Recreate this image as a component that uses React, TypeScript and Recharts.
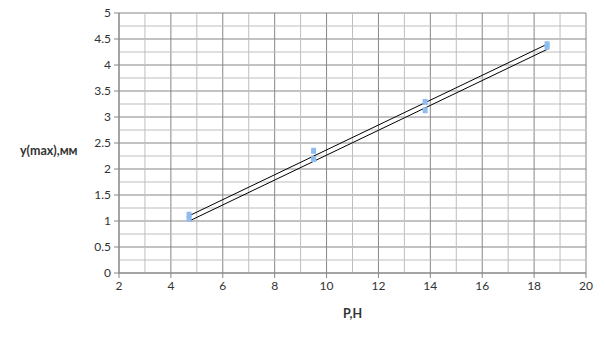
import {
  ComposedChart,
  CartesianGrid,
  Line,
  ReferenceLine,
  Scatter,
  XAxis,
  YAxis,
} from "recharts";

const xTicks = [2, 4, 6, 8, 10, 12, 14, 16, 18, 20];
const yTicks = [0, 0.5, 1, 1.5, 2, 2.5, 3, 3.5, 4, 4.5, 5];
const xMinor = [3, 5, 7, 9, 11, 13, 15, 17, 19];
const yMinor = [0.25, 0.75, 1.25, 1.75, 2.25, 2.75, 3.25, 3.75, 4.25, 4.75];

const loads = [4.7, 9.5, 13.8, 18.5];
const upperValues = [1.12, 2.35, 3.29, 4.4];
const lowerValues = [1.04, 2.19, 3.13, 4.35];

const upperFit = [
  { x: 4.7, y: 1.1 },
  { x: 18.5, y: 4.4 },
];
const lowerFit = [
  { x: 4.75, y: 1.01 },
  { x: 18.5, y: 4.3 },
];

const upperPoints = loads.map((x, i) => ({ x, y: upperValues[i] }));
const lowerPoints = loads.map((x, i) => ({ x, y: lowerValues[i] }));

const FONT = "Lato, 'Open Sans', sans-serif";
const MAJOR = "#868686";
const MINOR = "#bdbdbd";
const TEXT = "#333333";

function Marker(props: any) {
  const { cx, cy } = props;
  if (cx == null || cy == null) return null;
  return <rect x={cx - 2.5} y={cy - 3} width={5} height={6} fill="#8fbdf0" />;
}

export default function App() {
  return (
    <div style={{ position: "fixed", left: 0, top: 0, background: "#fff" }}>
      <ComposedChart
        width={605}
        height={340}
        margin={{ top: 13, right: 19, left: 0, bottom: 0 }}
        style={{ fontFamily: FONT }}
      >
        {xMinor.map((v) => (
          <ReferenceLine key={"x" + v} x={v} stroke={MINOR} ifOverflow="hidden" />
        ))}
        {yMinor.map((v) => (
          <ReferenceLine key={"y" + v} y={v} stroke={MINOR} ifOverflow="hidden" />
        ))}
        <CartesianGrid stroke={MAJOR} />
        <XAxis
          type="number"
          dataKey="x"
          domain={[2, 20]}
          ticks={xTicks}
          interval={0}
          height={67}
          stroke={MAJOR}
          tickSize={5}
          tickMargin={3}
          tick={{ fill: TEXT, fontSize: 12, fontFamily: FONT }}
          label={{
            value: "P,H",
            position: "insideBottom",
            offset: 22,
            fill: TEXT,
            fontSize: 12.5,
            fontWeight: "bold",
            fontFamily: FONT,
          }}
        />
        <YAxis
          type="number"
          dataKey="y"
          domain={[0, 5]}
          ticks={yTicks}
          interval={0}
          width={119}
          stroke={MAJOR}
          tickSize={5}
          tickMargin={3}
          tick={{ fill: TEXT, fontSize: 12, fontFamily: FONT }}
          label={{
            value: "y(max),мм",
            position: "insideLeft",
            offset: 20,
            dy: 8,
            fill: TEXT,
            fontSize: 12.5,
            fontWeight: "bold",
            fontFamily: FONT,
          }}
        />
        <Scatter data={upperPoints} shape={<Marker />} isAnimationActive={false} />
        <Scatter data={lowerPoints} shape={<Marker />} isAnimationActive={false} />
        <Line
          data={upperFit}
          dataKey="y"
          stroke="#000"
          strokeWidth={1}
          dot={false}
          activeDot={false}
          isAnimationActive={false}
        />
        <Line
          data={lowerFit}
          dataKey="y"
          stroke="#000"
          strokeWidth={1}
          dot={false}
          activeDot={false}
          isAnimationActive={false}
        />
      </ComposedChart>
    </div>
  );
}
